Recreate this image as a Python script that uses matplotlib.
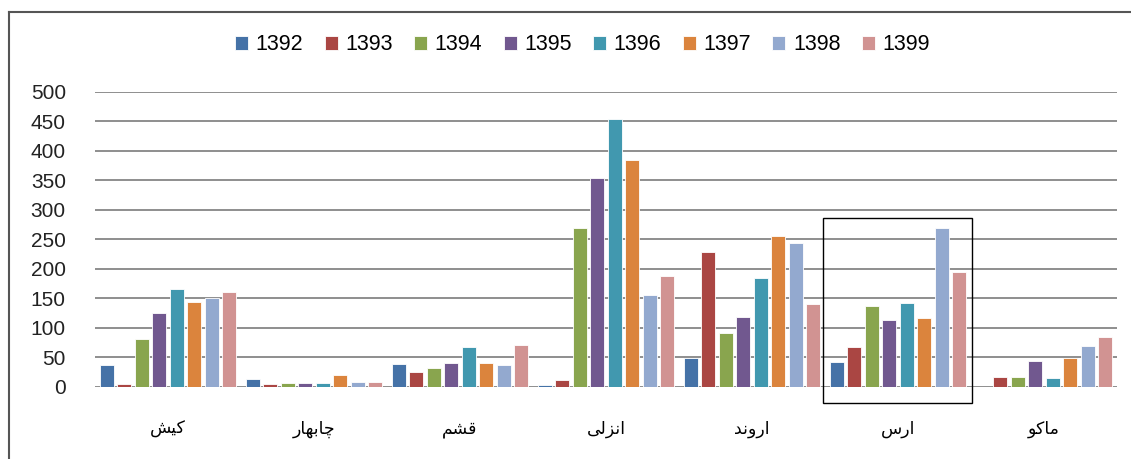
import numpy as np
import matplotlib
matplotlib.use("Agg")
import matplotlib.pyplot as plt
from matplotlib.lines import Line2D
from matplotlib.patches import Rectangle

# zones (logical Persian spelling) and yearly values
zones = ["کیش", "چابهار", "قشم", "انزلی", "اروند", "ارس", "ماکو"]
years = ["1392", "1393", "1394", "1395", "1396", "1397", "1398", "1399"]
v1392 = [38, 14, 39, 4, 49, 43, 0]
v1393 = [5, 5, 26, 11, 228, 67, 17]
v1394 = [81, 6, 32, 270, 92, 137, 17]
v1395 = [126, 6, 41, 354, 119, 114, 44]
v1396 = [166, 6, 68, 454, 184, 143, 15]
v1397 = [144, 21, 41, 384, 256, 116, 49]
v1398 = [150, 8, 37, 155, 244, 269, 70]
v1399 = [161, 8, 71, 188, 141, 194, 84]
series = [v1392, v1393, v1394, v1395, v1396, v1397, v1398, v1399]
colors = ["#4572A7", "#AA4643", "#89A54E", "#71588F",
          "#4198AF", "#DB843D", "#93A9CF", "#D19392"]

# Arabic presentation forms: isolated, final, initial, medial
FORMS = {
    "ا": (0xFE8D, 0xFE8E), "ب": (0xFE8F, 0xFE90, 0xFE91, 0xFE92),
    "د": (0xFEA9, 0xFEAA), "ر": (0xFEAD, 0xFEAE), "ز": (0xFEAF, 0xFEB0),
    "س": (0xFEB1, 0xFEB2, 0xFEB3, 0xFEB4), "ش": (0xFEB5, 0xFEB6, 0xFEB7, 0xFEB8),
    "ق": (0xFED5, 0xFED6, 0xFED7, 0xFED8), "ل": (0xFEDD, 0xFEDE, 0xFEDF, 0xFEE0),
    "م": (0xFEE1, 0xFEE2, 0xFEE3, 0xFEE4), "ن": (0xFEE5, 0xFEE6, 0xFEE7, 0xFEE8),
    "ه": (0xFEE9, 0xFEEA, 0xFEEB, 0xFEEC), "و": (0xFEED, 0xFEEE),
    "ک": (0xFB8E, 0xFB8F, 0xFB90, 0xFB91), "ی": (0xFBFC, 0xFBFD, 0xFBFE, 0xFBFF),
    "چ": (0xFB7A, 0xFB7B, 0xFB7C, 0xFB7D),
}


def shape(word):
    """Join letters and reverse to visual order (matplotlib has no bidi)."""
    out = []
    for i, ch in enumerate(word):
        f = FORMS[ch]
        jp = i > 0 and len(FORMS[word[i - 1]]) == 4
        jn = i + 1 < len(word) and len(f) == 4
        idx = 3 if (jp and jn) else 1 if jp else 2 if jn else 0
        out.append(chr(f[idx]))
    return "".join(reversed(out))


fig = plt.figure(figsize=(11.31, 4.59), dpi=100)
ax = fig.add_axes([0.084, 0.157, 0.9036, 0.6427])

x = np.arange(len(zones))
pitch, width = 0.12, 0.097
for i, (vals, c, yr) in enumerate(zip(series, colors, years)):
    ax.bar(x + (i - 3.5) * pitch, vals, width, color=c, label=yr,
           edgecolor="white", linewidth=0.6, zorder=3)

ax.set_xlim(-0.5, len(zones) - 0.5)
ax.set_ylim(0, 500)
ax.set_yticks(np.arange(0, 501, 50))
ax.yaxis.grid(True, color="#868686", linewidth=1.3, zorder=0)
ax.set_axisbelow(True)
for s in ax.spines.values():
    s.set_visible(False)
ax.tick_params(axis="y", length=0, pad=21, labelsize=15, labelcolor="#222222")
for lab in ax.get_yticklabels():
    lab.set_fontfamily(["Liberation Sans", "DejaVu Sans"])
ax.set_xticks(x)
ax.set_xticklabels([shape(z) for z in zones], fontsize=12.5,
                   fontfamily="DejaVu Sans")
ax.tick_params(axis="x", length=0, pad=24)

# box highlighting the Aras zone
ax.add_patch(Rectangle((4.488, -27), 1.02, 313, fill=False, edgecolor="black",
                       linewidth=1.0, clip_on=False, zorder=5))

leg = fig.legend(loc="center", bbox_to_anchor=(0.515, 0.902), ncol=8,
                 frameon=False, handlelength=0.6, handleheight=0.6,
                 handletextpad=0.35, columnspacing=1.0,
                 prop={"family": ["Liberation Sans", "DejaVu Sans"], "size": 15.5})

# outer frame of the chart area
fig.add_artist(Line2D([0.008, 0.008], [0, 0.974], color="#555555", linewidth=1.5))
fig.add_artist(Line2D([0.008, 1.0], [0.974, 0.974], color="#555555", linewidth=1.5))

fig.savefig("out.png", dpi=100)
